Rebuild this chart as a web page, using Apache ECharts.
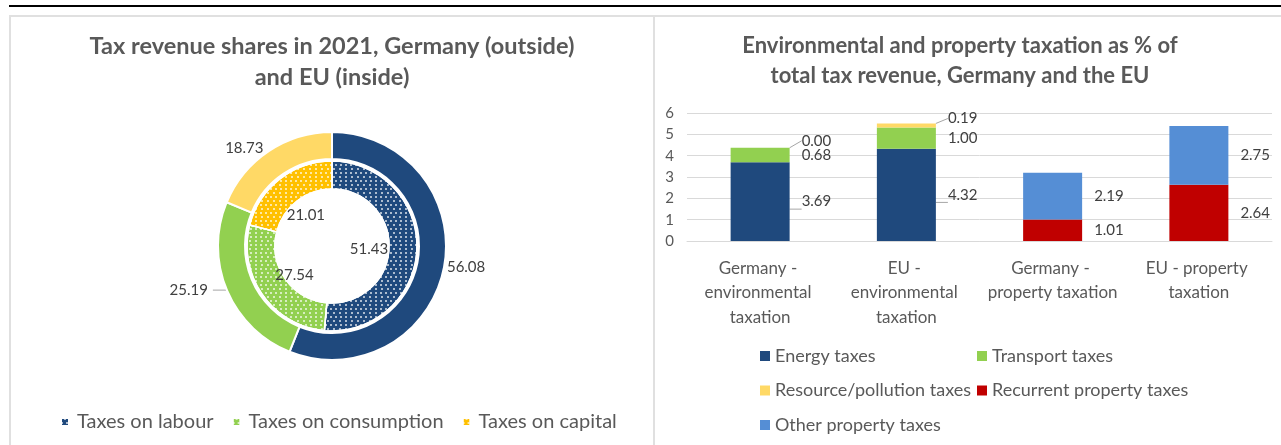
<!DOCTYPE html>
<html>
<head>
<meta charset="utf-8">
<script src="https://cdn.jsdelivr.net/npm/echarts@6/dist/echarts.min.js"></script>
<style>
  html, body { margin: 0; padding: 0; background: #fff; }
  #chart { width: 1281px; height: 445px; }
</style>
</head>
<body>
<div id="chart"></div>
<script>
// Tax revenue shares in 2021 (% of total tax revenue)
const shareCategories = ['Taxes on labour', 'Taxes on consumption', 'Taxes on capital'];
const germanyShares = [56.08, 25.19, 18.73];
const euShares = [51.43, 27.54, 21.01];

// Environmental and property taxation (% of total tax revenue)
const barCategories = [
  'Germany - environmental taxation',
  'EU - environmental taxation',
  'Germany - property taxation',
  'EU - property taxation'
];
const energyTaxes = [3.69, 4.32, null, null];
const transportTaxes = [0.68, 1.00, null, null];
const resourcePollutionTaxes = [0.00, 0.19, null, null];
const recurrentPropertyTaxes = [null, null, 1.01, 2.64];
const otherPropertyTaxes = [null, null, 2.19, 2.75];
const yAxisTicks = [0, 1, 2, 3, 4, 5, 6];

const FONT = 'Lato';
const TEXT = '#595959';
const LABEL = '#404040';
const GRID_LINE = '#d9d9d9';

// ring colours: outer (Germany) solid, inner (EU) dotted
const outerColors = ['#1f497d', '#92d050', '#ffd966'];
const innerColors = ['#1f497d', '#92d050', '#ffc000'];
const dots = {
  symbol: 'circle',
  symbolSize: 1,
  color: 'rgba(255,255,255,0.85)',
  dashArrayX: [[2, 3], [0, 2.5, 2, 0.5]],
  dashArrayY: [2, 1.3]
};

// per-slice label placement for the outer ring
const outerLabelTweaks = [
  { labelLine: { show: false, length: 0, length2: 0 }, label: { distanceToLabelLine: 3 } },
  { labelLine: { show: true, length: 0, length2: 14 }, label: { distanceToLabelLine: 5 } },
  { labelLine: { show: false, length: 4, length2: 0 }, label: { distanceToLabelLine: 3 } }
];
// small nudges for the inner-ring value labels (kept inside the hole)
const innerLabelOffsets = [[-4, 1], [-4, 6], [-1, 2]];

const fmt = p => (p.value == null ? '' : Number(p.value).toFixed(2));

const pieCenter = [332, 246];

const germanyData = shareCategories.map((name, i) => Object.assign({
  name: name,
  value: germanyShares[i],
  itemStyle: { color: outerColors[i] }
}, outerLabelTweaks[i]));

const euData = shareCategories.map((name, i) => ({
  name: name,
  value: euShares[i],
  itemStyle: { color: innerColors[i], decal: dots }
}));

const euLabelData = shareCategories.map((name, i) => ({
  name: name,
  value: euShares[i],
  label: { offset: innerLabelOffsets[i] }
}));

const barLabel = {
  show: true,
  position: 'right',
  distance: 8,
  padding: [0, 0, 0, 4],
  fontFamily: FONT,
  fontSize: 15,
  color: LABEL,
  formatter: fmt
};
const guide = { show: true, lineStyle: { color: '#a6a6a6', width: 1 } };

function barSeries(name, data, color, extra) {
  return Object.assign({
    name: name,
    type: 'bar',
    stack: 'share',
    barWidth: 59,
    data: data,
    itemStyle: { color: color },
    label: barLabel
  }, extra || {});
}

const chart = echarts.init(document.getElementById('chart'), null, { renderer: 'canvas' });

chart.setOption({
  animation: false,
  backgroundColor: '#fff',
  textStyle: { fontFamily: FONT },
  graphic: [
    { type: 'line', shape: { x1: 9, y1: 6, x2: 1281, y2: 6 }, style: { stroke: '#000', lineWidth: 2 }, silent: true },
    { type: 'polyline', shape: { points: [[10, 445], [10, 16], [654, 16], [654, 445]] }, style: { stroke: '#e0e0e0', lineWidth: 2, fill: null }, silent: true },
    { type: 'line', shape: { x1: 654, y1: 16, x2: 1281, y2: 16 }, style: { stroke: '#e0e0e0', lineWidth: 2 }, silent: true }
  ],
  title: [
    {
      text: 'Tax revenue shares in 2021, Germany (outside)\nand EU (inside)',
      left: 332, top: 31, textAlign: 'center', padding: 0,
      textStyle: { fontFamily: FONT, fontSize: 23.5, fontWeight: 'bold', color: TEXT, lineHeight: 31 }
    },
    {
      text: 'Environmental and property taxation as % of\ntotal tax revenue, Germany and the EU',
      left: 960, top: 31, textAlign: 'center', padding: 0,
      textStyle: { fontFamily: FONT, fontSize: 22, fontWeight: 'bold', color: TEXT, lineHeight: 30 }
    }
  ],
  legend: [
    {
      data: shareCategories,
      left: 60, top: 411, padding: 0,
      itemWidth: 8, itemHeight: 8, itemGap: 18,
      icon: 'rect',
      textStyle: { fontFamily: FONT, fontSize: 20, color: TEXT, lineHeight: 22, padding: [0, 0, 0, 3] }
    },
    {
      data: ['Energy taxes', 'Resource/pollution taxes', 'Other property taxes'],
      orient: 'vertical',
      left: 760, top: 345, padding: 0,
      itemWidth: 10, itemHeight: 10, itemGap: 12.5,
      icon: 'rect',
      textStyle: { fontFamily: FONT, fontSize: 18, color: TEXT, lineHeight: 22 }
    },
    {
      data: ['Transport taxes', 'Recurrent property taxes'],
      orient: 'vertical',
      left: 977, top: 345, padding: 0,
      itemWidth: 10, itemHeight: 10, itemGap: 12.5,
      icon: 'rect',
      textStyle: { fontFamily: FONT, fontSize: 18, color: TEXT, lineHeight: 22 }
    }
  ],
  grid: { left: 687, right: 9, top: 113, bottom: 204 },
  xAxis: {
    type: 'category',
    data: barCategories,
    axisLine: { lineStyle: { color: GRID_LINE } },
    axisTick: { show: false },
    axisLabel: {
      interval: 0,
      fontFamily: FONT, fontSize: 17, color: TEXT,
      width: 136, overflow: 'break', lineHeight: 24.5, margin: 15
    }
  },
  yAxis: {
    type: 'value',
    min: yAxisTicks[0],
    max: yAxisTicks[yAxisTicks.length - 1],
    interval: 1,
    axisLine: { show: false },
    axisTick: { show: false },
    splitLine: { lineStyle: { color: GRID_LINE } },
    axisLabel: { fontFamily: FONT, fontSize: 15, color: TEXT, margin: 13 }
  },
  series: [
    {
      name: 'EU',
      type: 'pie',
      center: pieCenter,
      radius: [57, 85],
      startAngle: 90,
      clockwise: true,
      avoidLabelOverlap: false,
      silent: true,
      itemStyle: { borderColor: '#fff', borderWidth: 1.5 },
      label: { show: false },
      labelLine: { show: false },
      data: euData
    },
    {
      name: 'Germany',
      type: 'pie',
      center: pieCenter,
      radius: [87, 114],
      startAngle: 90,
      clockwise: true,
      avoidLabelOverlap: false,
      silent: true,
      itemStyle: { borderColor: '#fff', borderWidth: 2 },
      label: {
        show: true, position: 'outside',
        fontFamily: FONT, fontSize: 15, color: LABEL,
        formatter: fmt
      },
      labelLine: {
        show: true, length: 0, length2: 14,
        minTurnAngle: 0, maxSurfaceAngle: 180,
        lineStyle: { color: '#a6a6a6', width: 1 }
      },
      data: germanyData
    },
    {
      name: 'EU values',
      type: 'pie',
      center: pieCenter,
      radius: [0, 76],
      startAngle: 90,
      clockwise: true,
      avoidLabelOverlap: false,
      silent: true,
      legendHoverLink: false,
      itemStyle: { color: 'rgba(0,0,0,0)', borderWidth: 0 },
      label: {
        show: true, position: 'inside',
        fontFamily: FONT, fontSize: 15, color: LABEL,
        formatter: fmt
      },
      labelLine: { show: false },
      data: euLabelData
    },
    barSeries('Energy taxes', energyTaxes, '#1f497d', { labelLine: guide }),
    barSeries('Transport taxes', transportTaxes, '#92d050'),
    barSeries('Resource/pollution taxes', resourcePollutionTaxes, '#ffd966', {
      labelLayout: { dy: -7 },
      labelLine: guide
    }),
    barSeries('Recurrent property taxes', recurrentPropertyTaxes, '#c00000'),
    barSeries('Other property taxes', otherPropertyTaxes, '#558ed5')
  ]
});
</script>
</body>
</html>
